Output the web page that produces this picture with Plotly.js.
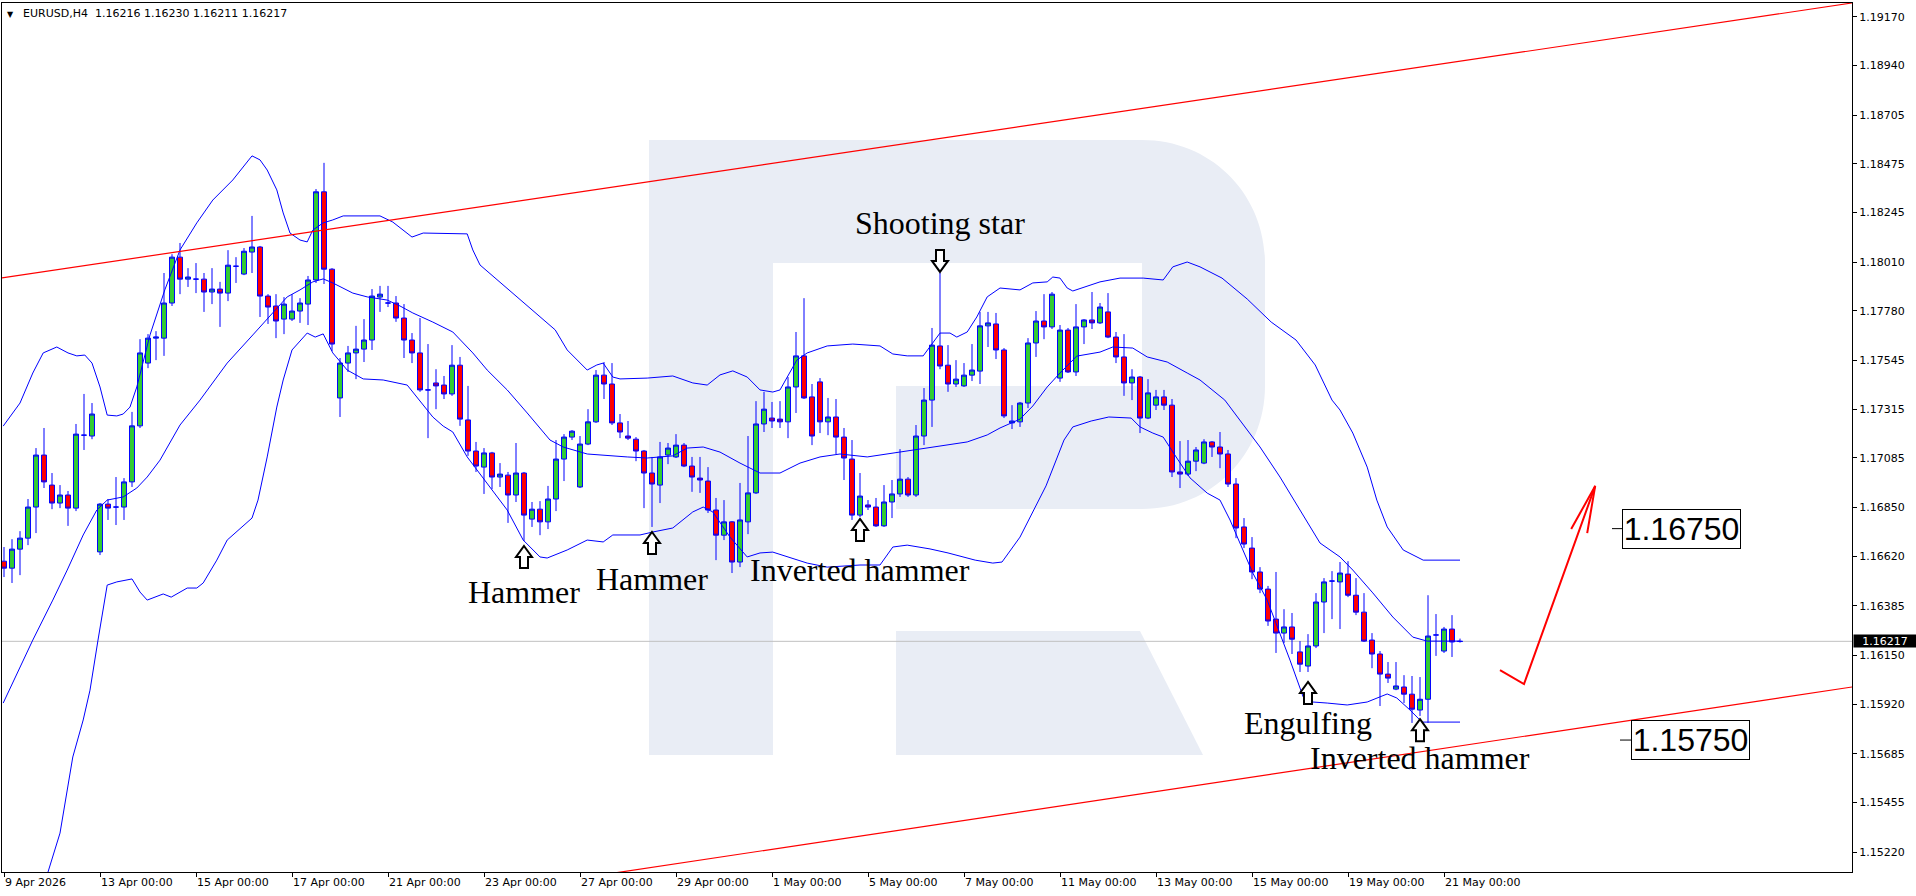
<!DOCTYPE html>
<html><head><meta charset="utf-8">
<script src="https://cdn.plot.ly/plotly-3.0.1.min.js"></script>
<style>html,body{margin:0;padding:0;background:#fff;}#chart{width:1916px;height:896px;}</style>
</head><body><div id="chart"></div>
<script>
// ---------- DATA ----------
const symbolTitle = 'EURUSD,H4';
const lastQuote = [1.16216, 1.16230, 1.16211, 1.16217]; // O H L C of last bar
const currentPrice = 1.16217;

const opens = [1.16596,1.16563,1.16653,1.16705,1.16852,1.17098,1.16956,1.16871,1.16909,1.16847,
1.17192,1.17188,1.16640,1.16866,1.16852,1.16852,1.16971,1.17236,1.17533,1.17651,
1.17651,1.17817,1.18034,1.17930,1.17930,1.17930,1.17869,1.17883,1.17864,1.17991,
1.17954,1.18058,1.18082,1.17850,1.17803,1.17741,1.17741,1.17779,1.17812,1.17926,
1.18343,1.17977,1.17368,1.17533,1.17581,1.17599,1.17642,1.17845,1.17817,1.17817,
1.17746,1.17642,1.17581,1.17406,1.17439,1.17429,1.17387,1.17523,1.17264,1.17117,
1.17041,1.17108,1.16994,1.17003,1.16909,1.17013,1.16795,1.16842,1.16782,1.16890,
1.17079,1.17183,1.16947,1.17150,1.17255,1.17476,1.17434,1.17250,1.17188,1.17173,
1.17117,1.17013,1.16956,1.17098,1.17089,1.17145,1.17046,1.16989,1.16975,1.16838,
1.16719,1.16782,1.16592,1.16782,1.16919,1.17245,1.17273,1.17268,1.17255,1.17420,
1.17567,1.17373,1.17444,1.17255,1.17278,1.17183,1.17079,1.16814,1.16862,1.16852,
1.16763,1.16876,1.16914,1.16984,1.16909,1.17188,1.17358,1.17614,1.17523,1.17434,
1.17425,1.17476,1.17495,1.17709,1.17718,1.17595,1.17250,1.17255,1.17344,1.17628,
1.17732,1.17704,1.17462,1.17689,1.17491,1.17704,1.17737,1.17723,1.17775,1.17656,
1.17562,1.17439,1.17467,1.17273,1.17334,1.17373,1.17334,1.17018,1.17008,1.17069,
1.17060,1.17160,1.17136,1.17103,1.16961,1.16758,1.16658,1.16545,1.16464,1.16322,
1.16256,1.16285,1.16167,1.16100,1.16195,1.16403,1.16502,1.16498,1.16535,1.16435,
1.16355,1.16223,1.16157,1.16062,1.15991,1.16001,1.15967,1.15892,1.15943,1.16247,
1.16171,1.16275,1.16216];
const highs = [1.16663,1.16700,1.16738,1.16890,1.17131,1.17226,1.17013,1.16956,1.16928,1.17245,
1.17387,1.17344,1.16871,1.16890,1.16994,1.16989,1.17302,1.17646,1.17670,1.17684,
1.17959,1.18048,1.18101,1.17982,1.18006,1.17959,1.17982,1.17917,1.18067,1.18034,
1.18077,1.18229,1.18087,1.17859,1.17859,1.17845,1.17859,1.17840,1.17945,1.18356,
1.18480,1.17982,1.17557,1.17614,1.17709,1.17741,1.17883,1.17898,1.17898,1.17850,
1.17812,1.17675,1.17746,1.17623,1.17504,1.17472,1.17618,1.17562,1.17425,1.17160,
1.17131,1.17113,1.17060,1.17018,1.17155,1.17018,1.16876,1.16880,1.16952,1.17169,
1.17197,1.17216,1.17188,1.17315,1.17500,1.17538,1.17533,1.17292,1.17259,1.17183,
1.17122,1.17089,1.17160,1.17155,1.17197,1.17155,1.17089,1.17089,1.17041,1.16895,
1.16885,1.16786,1.16966,1.17188,1.17353,1.17397,1.17349,1.17353,1.17467,1.17680,
1.17840,1.17434,1.17462,1.17368,1.17363,1.17226,1.17169,1.17013,1.16885,1.16895,
1.16956,1.16980,1.17126,1.16994,1.17240,1.17415,1.17699,1.17959,1.17618,1.17547,
1.17533,1.17623,1.17775,1.17775,1.17770,1.17604,1.17334,1.17349,1.17651,1.17779,
1.17859,1.17869,1.17713,1.17699,1.17812,1.17741,1.17869,1.17817,1.17864,1.17680,
1.17670,1.17504,1.17472,1.17457,1.17406,1.17406,1.17363,1.17164,1.17169,1.17136,
1.17173,1.17164,1.17207,1.17122,1.16989,1.16800,1.16710,1.16568,1.16479,1.16545,
1.16369,1.16351,1.16218,1.16251,1.16445,1.16516,1.16549,1.16592,1.16596,1.16516,
1.16445,1.16256,1.16171,1.16119,1.16119,1.16057,1.16053,1.16048,1.16435,1.16346,
1.16285,1.16341,1.16230];
const lows = [1.16521,1.16493,1.16530,1.16672,1.16729,1.16942,1.16842,1.16847,1.16763,1.16833,
1.17122,1.17173,1.16625,1.16791,1.16767,1.16791,1.16947,1.17226,1.17509,1.17547,
1.17567,1.17803,1.17859,1.17893,1.17864,1.17775,1.17812,1.17704,1.17826,1.17912,
1.17949,1.17959,1.17751,1.17718,1.17651,1.17670,1.17732,1.17723,1.17713,1.17912,
1.17907,1.17590,1.17278,1.17491,1.17457,1.17538,1.17595,1.17775,1.17798,1.17728,
1.17557,1.17533,1.17397,1.17178,1.17315,1.17363,1.17378,1.17236,1.17094,1.17018,
1.16914,1.16937,1.16947,1.16777,1.16876,1.16691,1.16758,1.16719,1.16748,1.16833,
1.16975,1.17169,1.16942,1.17145,1.17250,1.17363,1.17240,1.17178,1.17169,1.17069,
1.16847,1.16758,1.16871,1.17055,1.17084,1.17041,1.16924,1.16919,1.16824,1.16601,
1.16696,1.16540,1.16568,1.16724,1.16914,1.17207,1.17226,1.17226,1.17178,1.17297,
1.17363,1.17145,1.17202,1.17192,1.17103,1.16980,1.16791,1.16805,1.16838,1.16758,
1.16758,1.16800,1.16900,1.16900,1.16900,1.17145,1.17231,1.17504,1.17397,1.17420,
1.17420,1.17448,1.17434,1.17609,1.17552,1.17273,1.17221,1.17231,1.17320,1.17562,
1.17646,1.17694,1.17444,1.17486,1.17472,1.17623,1.17694,1.17718,1.17651,1.17533,
1.17378,1.17358,1.17202,1.17268,1.17311,1.17311,1.16994,1.16942,1.16999,1.17022,
1.17055,1.17089,1.17036,1.16947,1.16705,1.16658,1.16511,1.16445,1.16290,1.16162,
1.16209,1.16157,1.16072,1.16072,1.16185,1.16256,1.16322,1.16275,1.16426,1.16341,
1.16214,1.16090,1.15911,1.16020,1.15986,1.15925,1.15831,1.15864,1.15831,1.16148,
1.16162,1.16143,1.16211];
const closes = [1.16563,1.16653,1.16705,1.16852,1.17098,1.16971,1.16871,1.16909,1.16847,1.17197,
1.17192,1.17292,1.16866,1.16847,1.16852,1.16971,1.17236,1.17581,1.17651,1.17656,
1.17817,1.18034,1.17930,1.17940,1.17930,1.17869,1.17883,1.17864,1.17996,1.17991,
1.18062,1.18082,1.17850,1.17798,1.17732,1.17812,1.17779,1.17817,1.17926,1.18343,
1.17977,1.17623,1.17533,1.17581,1.17599,1.17642,1.17850,1.17859,1.17817,1.17746,
1.17642,1.17581,1.17406,1.17406,1.17425,1.17387,1.17523,1.17268,1.17117,1.17046,
1.17108,1.16994,1.17008,1.16909,1.17013,1.16814,1.16842,1.16782,1.16890,1.17079,
1.17183,1.17211,1.17150,1.17255,1.17476,1.17434,1.17250,1.17207,1.17178,1.17117,
1.17013,1.16961,1.17089,1.17131,1.17145,1.17046,1.16994,1.16980,1.16838,1.16719,
1.16782,1.16592,1.16791,1.16919,1.17245,1.17315,1.17259,1.17255,1.17420,1.17567,
1.17368,1.17188,1.17255,1.17278,1.17183,1.17084,1.16814,1.16904,1.16852,1.16763,
1.16876,1.16914,1.16984,1.16909,1.17188,1.17358,1.17618,1.17519,1.17434,1.17457,
1.17476,1.17500,1.17709,1.17723,1.17595,1.17283,1.17259,1.17344,1.17628,1.17732,
1.17704,1.17859,1.17689,1.17491,1.17704,1.17737,1.17723,1.17798,1.17656,1.17562,
1.17439,1.17467,1.17273,1.17392,1.17373,1.17334,1.17018,1.17008,1.17069,1.17122,
1.17160,1.17136,1.17103,1.16961,1.16753,1.16677,1.16545,1.16464,1.16313,1.16256,
1.16285,1.16227,1.16109,1.16195,1.16403,1.16498,1.16502,1.16540,1.16435,1.16355,
1.16218,1.16157,1.16062,1.16043,1.16006,1.15967,1.15896,1.15943,1.16242,1.16247,
1.16275,1.16214,1.16217];

// Bollinger bands (x = bar number)
const upperX = [-0.1,2,3.6,4.9,6.6,8,9.1,10.1,11,12,12.9,14.1,14.9,15.75,16.6,18.25,20.1,22,24.1,26.1,
28.6,31,32,32.9,34.1,34.9,35.75,37,37.9,38.6,39.9,41.1,42.4,47,48.6,51,52.4,55.4,57.9,58.6,
59.5,68.9,70.4,72.9,74.1,74.9,76.1,77,80.4,83.6,86.1,87.9,89.5,91.1,92.9,94.5,96.1,97,98.25,99.1,
100.4,102.9,106.1,109.5,111.1,112.9,114.9,116.1,117,118.25,119.1,120.4,121.6,122.9,124.5,127,128.6,130.4,131.1,132,
132.9,133.6,137,139.5,142.4,144.9,146.1,147.9,149.5,152.25,155.4,158.4,161.5,163.9,166,167,168.6,170.4,171.6,172.9,
174.9,177.4,182];
const upperBand = [1.17235,1.17344,1.17486,1.17581,1.17609,1.17581,1.17567,1.17571,1.17533,1.17420,
1.17287,1.17283,1.17292,1.17325,1.17420,1.17666,1.17879,1.18068,1.18196,1.18304,
1.18399,1.18513,1.18494,1.18446,1.18352,1.18243,1.18148,1.18115,1.18106,1.18162,
1.18196,1.18210,1.18229,1.18229,1.18200,1.18129,1.18148,1.18144,1.18144,1.18068,
1.17997,1.17690,1.17595,1.17500,1.17524,1.17533,1.17467,1.17458,1.17462,1.17472,
1.17439,1.17429,1.17477,1.17496,1.17467,1.17406,1.17396,1.17406,1.17486,1.17547,
1.17581,1.17614,1.17623,1.17614,1.17576,1.17567,1.17567,1.17628,1.17675,1.17675,
1.17656,1.17680,1.17751,1.17846,1.17888,1.17879,1.17912,1.17917,1.17940,1.17935,
1.17888,1.17874,1.17917,1.17935,1.17935,1.17926,1.17988,1.18011,1.17988,1.17935,
1.17836,1.17727,1.17642,1.17524,1.17358,1.17311,1.17202,1.17041,1.16885,1.16758,
1.16649,1.16601,1.16601];
const middleX = [-0.1,3.6,6.1,7.9,9.9,11.6,12.9,14.9,16.6,17.9,19.5,20.75,22,24.5,27.9,31.1,33.6,35.4,37,38.6,
39.9,41.1,43.6,45.4,47.9,49.5,51.1,53.6,56.1,58.6,60.4,62.9,65.4,68.25,69.9,72.9,77.9,80.4,83.6,85.4,
87.4,89.5,92,94.5,97,99.5,102,104.5,107.9,111.1,113.6,116.1,120.4,122.9,124.5,127,128.6,130.4,132,134.1,
137,138.6,141.1,142.9,145.4,147.9,149.5,152.6,154.5,157,159.5,162,164.5,167,168.6,171.1,173.6,176.1,177.9,182];
const middleBand = [1.15925,1.16223,1.16412,1.16554,1.16720,1.16838,1.16885,1.16900,1.16942,1.16994,
1.17074,1.17155,1.17240,1.17358,1.17533,1.17666,1.17770,1.17846,1.17879,1.17917,
1.17931,1.17912,1.17864,1.17846,1.17831,1.17803,1.17770,1.17727,1.17680,1.17581,
1.17500,1.17406,1.17297,1.17169,1.17136,1.17103,1.17089,1.17084,1.17094,1.17131,
1.17136,1.17112,1.17060,1.17013,1.17013,1.17060,1.17089,1.17103,1.17089,1.17108,
1.17122,1.17136,1.17160,1.17193,1.17226,1.17268,1.17330,1.17420,1.17486,1.17566,
1.17585,1.17609,1.17604,1.17562,1.17538,1.17486,1.17453,1.17358,1.17264,1.17136,
1.16994,1.16838,1.16682,1.16616,1.16554,1.16446,1.16332,1.16237,1.16218,1.16218];
const lowerX = [-0.1,5.5,7,8.6,9.9,10.75,11.75,12.9,14.1,16,17,17.9,19.9,20.9,22.9,24.1,24.9,26.6,27.9,31,
31.75,32.9,34.1,34.9,36,37.9,38.9,39.9,41.1,42.9,44.9,47.4,50.4,51.6,53.6,54.9,56.1,57.9,60.75,62.9,
64.9,67,67.9,70.4,72.9,74.9,76.1,79.5,81.1,83.6,86.1,87.4,88.6,90.75,92.9,94.5,96.1,97.9,100.4,102.9,
107,109.5,111.1,112.9,115.75,118,121.4,123.6,124.75,127,130.25,132.5,133.6,135.9,138.1,140.9,142,143.6,144.9,146.6,
148.25,150.4,152,153.25,154.5,156.1,157.9,159.5,160.75,162.4,163.6,165.4,167.9,170.4,172.9,174.1,175.75,177.25,182];
const lowerBand = [1.14615,1.15126,1.15310,1.15670,1.15845,1.15986,1.16223,1.16483,1.16498,1.16512,
1.16450,1.16412,1.16441,1.16426,1.16469,1.16469,1.16493,1.16601,1.16696,1.16800,
1.16885,1.17089,1.17325,1.17453,1.17595,1.17675,1.17656,1.17671,1.17581,1.17500,
1.17458,1.17453,1.17429,1.17373,1.17278,1.17235,1.17207,1.17089,1.16947,1.16838,
1.16696,1.16616,1.16611,1.16649,1.16696,1.16687,1.16720,1.16720,1.16734,1.16753,
1.16829,1.16852,1.16829,1.16710,1.16616,1.16635,1.16639,1.16616,1.16587,1.16568,
1.16578,1.16578,1.16663,1.16672,1.16654,1.16635,1.16601,1.16587,1.16592,1.16710,
1.16952,1.17169,1.17231,1.17259,1.17278,1.17273,1.17231,1.17202,1.17183,1.17084,
1.16990,1.16918,1.16885,1.16791,1.16682,1.16540,1.16412,1.16256,1.16128,1.15954,
1.15930,1.15925,1.15916,1.15930,1.15968,1.15949,1.15892,1.15835,1.15835];

// channel lines
const channelX = [-0.25, 231];
const channelUpper = [1.17936, 1.19236];
const channelLower = [1.14686, 1.16001];

// forecast arrow
const forecastX = [187, 190, 198.9];
const forecastY = [1.16081, 1.16015, 1.16952];
const forecastHeadX = [195.9, 198.9, 197.9];
const forecastHeadY = [1.16748, 1.16952, 1.16729];

// target levels
const levelPrices = [1.16750, 1.15750];
const levelLabels = ['1.16750', '1.15750'];
const levelLineStart = [201, 202];
const levelBoxBar = [202.25, 203.375];

// candlestick patterns
const patternNames = ['Hammer', 'Hammer', 'Inverted hammer', 'Shooting star', 'Engulfing', 'Inverted hammer'];
const patternBars = [65, 81, 107, 117, 163, 177];
const patternTextPrices = [1.16448, 1.16512, 1.16554, 1.18196, 1.15833, 1.15663];
const patternArrowPrices = [1.16668, 1.16734, 1.16796, 1.17964, 1.16025, 1.15849];
const patternArrowDir = ['up', 'up', 'up', 'down', 'up', 'up'];

// axes
const xTickBars = [0,12,24,36,48,60,72,84,96,108,120,132,144,156,168,180];
const xTickLabels = ['9 Apr 2026','13 Apr 00:00','15 Apr 00:00','17 Apr 00:00','21 Apr 00:00','23 Apr 00:00',
'27 Apr 00:00','29 Apr 00:00','1 May 00:00','5 May 00:00','7 May 00:00','11 May 00:00','13 May 00:00',
'15 May 00:00','19 May 00:00','21 May 00:00'];
const yTickValues = [1.19170,1.18940,1.18705,1.18475,1.18245,1.18010,1.17780,1.17545,1.17315,1.17085,
1.16850,1.16620,1.16385,1.16150,1.15920,1.15685,1.15455,1.15220];
const yRange = [1.15126, 1.19236];
const xRange = [-0.25, 231];

// ---------- CHART ----------
const barIndex = opens.map((_, i) => i);
const BLUE = '#0000ff';
const traces = [];
traces.push({
  type: 'candlestick', x: barIndex, open: opens, high: highs, low: lows, close: closes,
  increasing: {line: {color: BLUE, width: 1}, fillcolor: '#32cd32'},
  decreasing: {line: {color: BLUE, width: 1}, fillcolor: '#ff0000'},
  whiskerwidth: 0, hoverinfo: 'skip', showlegend: false
});
[[upperX, upperBand], [middleX, middleBand], [lowerX, lowerBand]].forEach(([xs, ys]) => {
  traces.push({type: 'scatter', mode: 'lines', x: xs, y: ys, line: {color: BLUE, width: 1}, hoverinfo: 'skip', showlegend: false});
});
traces.push({type: 'scatter', mode: 'lines', x: channelX, y: channelUpper, line: {color: '#ff0000', width: 1.2}, hoverinfo: 'skip', showlegend: false});
traces.push({type: 'scatter', mode: 'lines', x: channelX, y: channelLower, line: {color: '#ff0000', width: 1.2}, hoverinfo: 'skip', showlegend: false});
traces.push({type: 'scatter', mode: 'lines', x: forecastX, y: forecastY, line: {color: '#ff0000', width: 2}, hoverinfo: 'skip', showlegend: false});
traces.push({type: 'scatter', mode: 'lines', x: forecastHeadX, y: forecastHeadY, line: {color: '#ff0000', width: 2}, hoverinfo: 'skip', showlegend: false});
levelPrices.forEach((p, i) => {
  traces.push({type: 'scatter', mode: 'lines', x: [levelLineStart[i], levelBoxBar[i]], y: [p, p], line: {color: '#000', width: 1}, hoverinfo: 'skip', showlegend: false});
});

// watermark "R" (decorative, paper coordinates)
const W = '#e9edf5';
const px = v => (v - 2) / 1850;
const py = v => 1 - (v - 3) / 869;
const shapes = [];
shapes.push({type: 'rect', xref: 'paper', yref: 'paper', x0: px(649), x1: px(773), y0: py(755), y1: py(140), fillcolor: W, line: {width: 0}, layer: 'below'});
shapes.push({type: 'path', xref: 'paper', yref: 'paper', layer: 'below', fillcolor: W, line: {width: 0},
  path: `M${px(772)},${py(140)} L${px(1142)},${py(140)} C${px(1212)},${py(140)} ${px(1265)},${py(195)} ${px(1265)},${py(263)} ` +
        `L${px(1265)},${py(386)} C${px(1265)},${py(454)} ${px(1212)},${py(509)} ${px(1142)},${py(509)} ` +
        `L${px(896)},${py(509)} L${px(896)},${py(386)} L${px(1142)},${py(386)} L${px(1142)},${py(263)} L${px(772)},${py(263)} Z`});
shapes.push({type: 'path', xref: 'paper', yref: 'paper', layer: 'below', fillcolor: W, line: {width: 0},
  path: `M${px(896)},${py(631)} L${px(1140)},${py(631)} L${px(1203)},${py(755)} L${px(896)},${py(755)} Z`});
// current price line
shapes.push({type: 'line', xref: 'paper', yref: 'y', x0: 0, x1: 1, y0: currentPrice, y1: currentPrice, line: {color: '#c0c0c0', width: 1}, layer: 'below'});
// pattern arrows (hollow)
patternBars.forEach((b, i) => {
  const up = patternArrowDir[i] === 'up';
  const s = up ? -1 : 1;
  shapes.push({type: 'path', xref: 'x', yref: 'y', xsizemode: 'pixel', ysizemode: 'pixel', xanchor: b, yanchor: patternArrowPrices[i],
    path: `M0,0 L8,${11*s} L4,${11*s} L4,${22*s} L-4,${22*s} L-4,${11*s} L-8,${11*s} Z`,
    fillcolor: '#ffffff', line: {color: '#000', width: 2}, layer: 'above'});
});

const annotations = [];
annotations.push({xref: 'paper', yref: 'paper', x: 0, y: 1, xshift: 3, yshift: -5, xanchor: 'left', yanchor: 'top', showarrow: false,
  text: '▼', font: {family: 'DejaVu Sans', size: 8, color: '#000'}});
annotations.push({xref: 'paper', yref: 'paper', x: 0, y: 1, xshift: 19, yshift: -2, xanchor: 'left', yanchor: 'top', showarrow: false,
  text: symbolTitle + '\u00a0\u00a0' + lastQuote.map(v => v.toFixed(5)).join(' '), font: {family: 'DejaVu Sans', size: 11, color: '#000'}});
patternNames.forEach((t, i) => {
  annotations.push({x: patternBars[i], y: patternTextPrices[i], xanchor: 'center', yanchor: 'middle', showarrow: false, text: t,
    font: {family: 'Liberation Serif, Times New Roman, serif', size: 32, color: '#000'}});
});
levelPrices.forEach((p, i) => {
  annotations.push({x: levelBoxBar[i], y: p, xanchor: 'left', yanchor: 'middle', showarrow: false, text: levelLabels[i],
    font: {family: 'Liberation Sans, Arial, sans-serif', size: 32, color: '#000'}, bgcolor: '#fff', bordercolor: '#000', borderwidth: 1,
    borderpad: 1, width: 115, height: 36});
});
annotations.push({xref: 'paper', yref: 'y', x: 1, xshift: 1, y: currentPrice, xanchor: 'left', yanchor: 'middle', showarrow: false,
  text: currentPrice.toFixed(5), font: {family: 'DejaVu Sans', size: 11, color: '#fff'}, bgcolor: '#000', borderpad: 0, width: 62, height: 12});

const layout = {
  width: 1916, height: 896,
  margin: {l: 2, r: 64, t: 3, b: 24, pad: 0},
  paper_bgcolor: '#fff', plot_bgcolor: '#fff',
  showlegend: false, boxgap: 0.38, boxgroupgap: 0,
  xaxis: {range: xRange, showgrid: false, zeroline: false, showline: true, mirror: true, linecolor: '#000', linewidth: 1,
    ticks: 'outside', ticklen: 4, tickcolor: '#000', tickvals: xTickBars, ticktext: xTickLabels, ticklabelposition: 'outside right',
    tickfont: {family: 'DejaVu Sans', size: 11, color: '#000'}, rangeslider: {visible: false}, fixedrange: true},
  yaxis: {range: yRange, side: 'right', showgrid: false, zeroline: false, showline: true, mirror: true, linecolor: '#000', linewidth: 1,
    ticks: 'outside', ticklen: 4, tickcolor: '#000', tickvals: yTickValues, ticktext: yTickValues.map(v => v.toFixed(5)),
    tickfont: {family: 'DejaVu Sans', size: 11, color: '#000'}, fixedrange: true},
  shapes: shapes, annotations: annotations
};
Plotly.newPlot('chart', traces, layout, {staticPlot: true, displayModeBar: false});
</script></body></html>
